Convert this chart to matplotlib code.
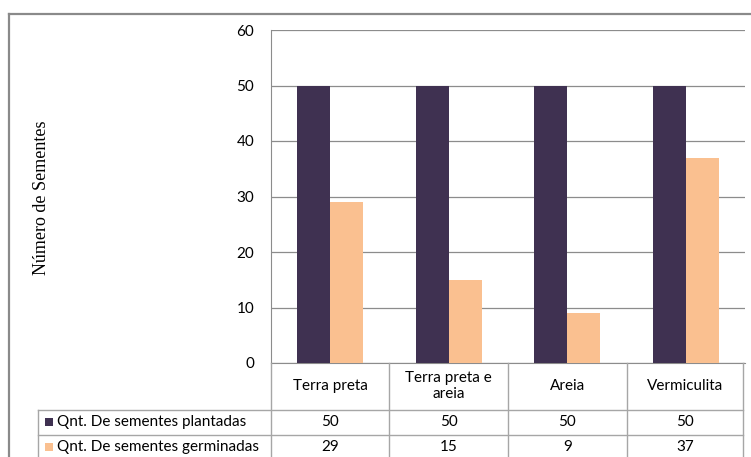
import numpy as np
import matplotlib
matplotlib.use("Agg")
import matplotlib.pyplot as plt
from matplotlib.lines import Line2D
from matplotlib.patches import Rectangle

categories = ["Terra preta", "Terra preta e\nareia", "Areia", "Vermiculita"]
series_names = ["Qnt. De sementes plantadas", "Qnt. De sementes germinadas"]
plantadas = [50, 50, 50, 50]
germinadas = [29, 15, 9, 37]
colors = ["#3F3151", "#FAC090"]
y_ticks = [0, 10, 20, 30, 40, 50, 60]

W, H = 751, 457
fig = plt.figure(figsize=(W / 100, H / 100), dpi=100)
plt.rcParams["font.family"] = ["Lato", "DejaVu Sans"]
FS = 11

def fx(px): return px / W
def fy(py): return 1 - py / H

# plot area in pixels
L, R, T, B = 271, 745, 30, 363
ax = fig.add_axes([fx(L), fy(B), fx(R) - fx(L), fy(T) - fy(B)])

x = np.arange(len(categories))
bw = 0.28
ax.bar(x - bw / 2, plantadas, bw, color=colors[0], zorder=3)
ax.bar(x + bw / 2, germinadas, bw, color=colors[1], zorder=3)

ax.set_xlim(-0.5, len(categories) - 0.5)
ax.set_ylim(0, 60)
ax.set_yticks(y_ticks)
ax.tick_params(axis="y", length=0, labelsize=FS, pad=12)
ax.set_xticks([])
ax.grid(axis="y", color="#8C8C8C", linewidth=0.9, zorder=0)
for s in ["top", "right"]:
    ax.spines[s].set_visible(False)
ax.spines["left"].set_color("#8C8C8C")
ax.spines["bottom"].set_color("#8C8C8C")

fig.text(fx(42), fy(198), "Número de Sementes", rotation=90, ha="center", va="center",
         family="Liberation Serif", fontsize=13)

# data table below the plot (pixel coordinates)
line_kw = dict(color="#A6A6A6", linewidth=1.0)
tbl_left = 38
tbl_right = 743
row_lines = [410, 435]
col_px = [L + i * (R - L) / len(categories) for i in range(len(categories) + 1)]
col_px[-1] = tbl_right

def hline(py, x0, x1):
    fig.add_artist(Line2D([fx(x0), fx(x1)], [fy(py), fy(py)], transform=fig.transFigure, **line_kw))

def vline(px, y0, y1):
    fig.add_artist(Line2D([fx(px), fx(px)], [fy(y0), fy(y1)], transform=fig.transFigure, **line_kw))

for py in row_lines:
    hline(py, tbl_left, tbl_right)
for px in col_px:
    vline(px, B, H + 5)
vline(tbl_left, row_lines[0], H + 5)

for i, cat in enumerate(categories):
    cx = (col_px[i] + col_px[i + 1]) / 2
    fig.text(fx(cx), fy(386), cat, ha="center", va="center", fontsize=FS, linespacing=1.1)

row_centers = [422, 447]
for name, vals, c, cy in zip(series_names, [plantadas, germinadas], colors, row_centers):
    fig.add_artist(Rectangle((fx(45), fy(cy + 4)), fx(8), 8 / H, transform=fig.transFigure,
                             facecolor=c, edgecolor="none"))
    fig.text(fx(57), fy(cy), name, ha="left", va="center", fontsize=FS)
    for i, v in enumerate(vals):
        cx = (col_px[i] + col_px[i + 1]) / 2
        fig.text(fx(cx), fy(cy), str(v), ha="center", va="center", fontsize=FS)

# outer frame (top and left edges visible)
frame_kw = dict(color="#8A8A8A", linewidth=1.6, transform=fig.transFigure)
fig.add_artist(Line2D([fx(9), 1], [fy(14), fy(14)], **frame_kw))
fig.add_artist(Line2D([fx(9), fx(9)], [fy(14), 0], **frame_kw))

fig.savefig("out.png", dpi=100)
